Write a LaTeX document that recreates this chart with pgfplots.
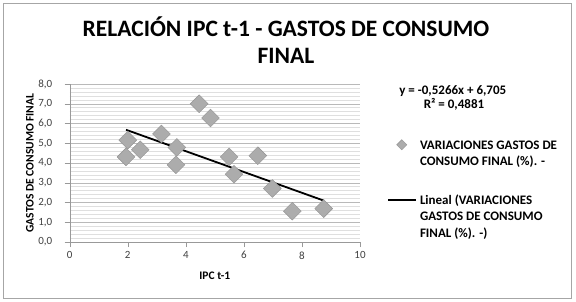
\documentclass[border=0pt]{standalone}
\usepackage{pgfplots}
\pgfplotsset{compat=1.18}
\usepackage{fontspec}
\setmainfont{Carlito}
\pgfplotsset{
  scatterlegend/.style={legend image code/.code={\draw[##1, mark size=3.6pt] plot coordinates {(13.7pt,4.5pt)};}},
  linelegend/.style={legend image code/.code={\draw[##1] (0pt,4.5pt) -- (28pt,4.5pt);}},
}
\begin{document}
\begin{tikzpicture}
\useasboundingbox (0,0) rectangle (576pt,301pt);
\fill[white] (0,0) rectangle (576pt,301pt);
\draw[gray!70, line width=0.8pt] (3pt,3pt) rectangle (571pt,298pt);
\node[font=\bfseries\fontsize{23.5}{26}\selectfont, anchor=base, inner sep=0pt] at (286pt,265pt) {RELACIÓN IPC t-1 - GASTOS DE CONSUMO};
\node[font=\bfseries\fontsize{23.5}{26}\selectfont, anchor=base, inner sep=0pt] at (286pt,237.3pt) {FINAL};
\node[font=\bfseries\fontsize{13}{15}\selectfont, anchor=base, inner sep=0pt] at (452.8pt,206.3pt) {y = -0,5266x + 6,705};
\node[font=\bfseries\fontsize{13}{15}\selectfont, anchor=base, inner sep=0pt] at (454pt,193pt) {R² = 0,4881};
\begin{axis}[
  scale only axis, width=290.3pt, height=158pt,
  at={(69.7pt,59pt)}, anchor=south west,
  xmin=0, xmax=10, ymin=0, ymax=8,
  xtick={0,2,...,10}, ytick={0,1,...,8},
  minor y tick num=4,
  axis x line*=bottom, axis y line*=left,
  axis line style={gray!80, -},
  tick align=outside, major tick length=5pt, minor tick length=0pt,
  tick style={gray!80},
  ymajorgrids, yminorgrids,
  major grid style={gray!55, line width=0.5pt},
  minor grid style={gray!25, line width=0.5pt},
  ticklabel style={font=\fontsize{11}{13}\selectfont, text=black!75},
  /pgf/number format/assume math mode=true,
  yticklabel style={xshift=-9pt, /pgf/number format/.cd, fixed, fixed zerofill, precision=1, use comma},
  xticklabel style={yshift=-1pt},
  xlabel={IPC t-1}, ylabel={GASTOS DE CONSUMO FINAL},
  label style={font=\bfseries\fontsize{11.5}{13}\selectfont},
  xlabel style={at={(axis description cs:0.5,-0.213)}, anchor=center},
  ylabel style={at={(axis description cs:-0.137,0.5)}, anchor=center},
  legend style={at={(1.093,0.674)}, anchor=north west, draw=none, fill=none,
    inner sep=0pt, font=\bfseries\fontsize{13}{16.5}\selectfont,
    cells={anchor=base west}, row sep=38pt, column sep=1pt},
]
\addplot[only marks, mark=square*, mark size=6.3pt,
  mark options={rotate=45, fill=gray!65, draw=gray!85, line width=0.4pt},
  scatterlegend]
coordinates {
(2.00,5.16) (1.94,4.31) (2.43,4.67) (3.16,5.47) (3.69,4.79) (3.66,3.91)
(4.46,7.00) (4.85,6.28) (5.49,4.31) (5.66,3.43) (6.48,4.37) (6.98,2.71)
(7.67,1.56) (8.75,1.69)
};
\addlegendentry{\begin{tabular}[t]{@{}l@{}}VARIACIONES GASTOS DE\\CONSUMO FINAL (\%). -\end{tabular}}
\addplot[black, line width=1.8pt, linelegend]
coordinates {(1.94,5.683) (8.75,2.097)};
\addlegendentry{\begin{tabular}[t]{@{}l@{}}Lineal (VARIACIONES\\GASTOS DE CONSUMO\\FINAL (\%). -)\end{tabular}}
\end{axis}
\end{tikzpicture}
\end{document}
